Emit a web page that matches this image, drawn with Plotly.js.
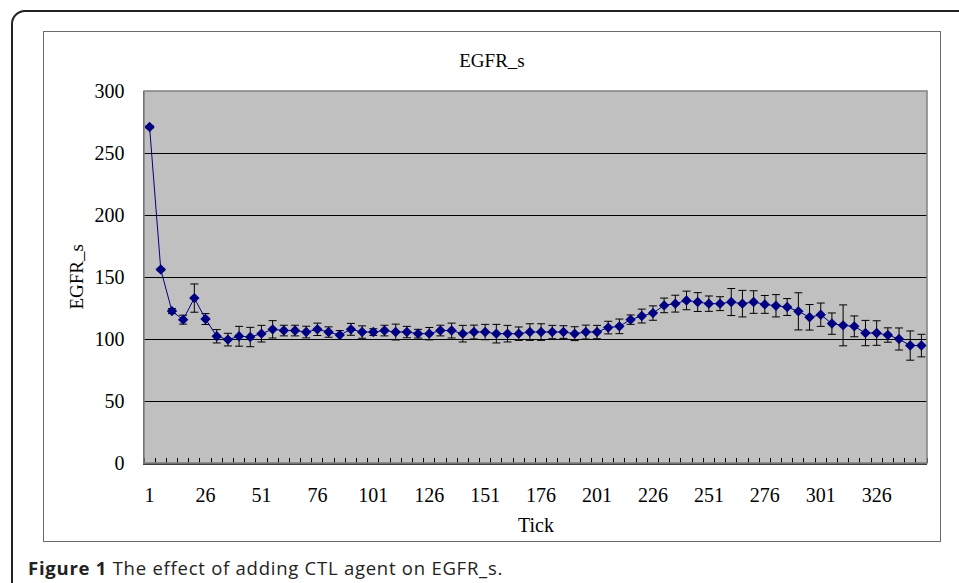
<!DOCTYPE html>
<html>
<head>
<meta charset="utf-8">
<script src="https://cdn.plot.ly/plotly-3.0.1.min.js"></script>
<style>
  html, body { margin: 0; padding: 0; background: #fff; width: 959px; height: 583px; overflow: hidden; }
  #frame { position: absolute; left: 11px; top: 10px; width: 1000px; height: 700px; border: 2px solid #222; border-radius: 14px; box-sizing: border-box; }
  #box { position: absolute; left: 43px; top: 31px; width: 898px; height: 511px; border: 1.5px solid #6a6a6a; box-sizing: border-box; background: #fff; }
  #chart { position: absolute; left: 0; top: 0; width: 959px; height: 583px; }
  #caption { position: absolute; left: 28px; top: 555px; font-family: "Open Sans", "Noto Sans", sans-serif; font-size: 18.5px; letter-spacing: 0.75px; color: #222; white-space: nowrap; }
</style>
</head>
<body>
<div id="frame"></div>
<div id="box"></div>
<div id="chart"></div>
<div id="caption"><b>Figure 1</b> The effect of adding CTL agent on EGFR_s.</div>
<script>
// Category (tick) positions
const tickValues = [1, 6, 11, 16, 21, 26, 31, 36, 41, 46, 51, 56, 61, 66, 71, 76, 81, 86, 91, 96,
  101, 106, 111, 116, 121, 126, 131, 136, 141, 146, 151, 156, 161, 166, 171, 176, 181, 186, 191, 196,
  201, 206, 211, 216, 221, 226, 231, 236, 241, 246, 251, 256, 261, 266, 271, 276, 281, 286, 291, 296,
  301, 306, 311, 316, 321, 326, 331, 336, 341, 346];

// EGFR_s mean values
const egfrMean = [271, 156, 122.5, 115.6, 133, 116.1, 102.2, 99.5, 102.2, 101.6,
  104.3, 107.8, 106.8, 106.8, 105.6, 107.8, 105.6, 103.2, 107.8, 105.6,
  105.6, 106.8, 105.6, 105.6, 104.3, 104.3, 106.8, 106.8, 104.3, 105.6,
  105.6, 104.3, 104.3, 104.3, 105.6, 105.6, 105.6, 105.6, 104.3, 105.6,
  105.6, 109.2, 110.2, 115.6, 118.5, 120.9, 127.1, 128.5, 131.1, 129.8,
  128.5, 128.5, 129.8, 128.5, 129.8, 127.9, 126.8, 125.8, 122.3, 117.5,
  119.6, 112.4, 111, 110.2, 104.8, 104.8, 103.2, 100, 94.7, 94.7];

// Error bar half-lengths
const egfrErr = [1, 1, 2, 3.6, 11.4, 4.4, 5.4, 5.1, 8, 7.8,
  6.7, 7, 4.3, 4.3, 4.7, 5, 4.2, 3.6, 4.8, 5,
  2.7, 4.3, 6.4, 4.6, 3.5, 5, 4.3, 6, 6.7, 5.6,
  6.2, 7.5, 6.7, 5.4, 6.7, 6.7, 5.4, 5.1, 5.6, 5.6,
  5.4, 5.1, 5.9, 3.8, 5.6, 5.8, 5.9, 6.8, 7.5, 7.6,
  6.2, 5.6, 10.9, 10.7, 9.1, 7.2, 9, 6.8, 15, 10.3,
  9.4, 8.6, 16.5, 8.4, 10.2, 9.9, 5.8, 8.9, 11.8, 9.1];

const xTickLabels = [1, 26, 51, 76, 101, 126, 151, 176, 201, 226, 251, 276, 301, 326];
const yTickLabels = [0, 50, 100, 150, 200, 250, 300];

const chartTitle = "EGFR_s";
const xTitle = "Tick";
const yTitle = "EGFR_s";

const serif = "Liberation Serif, Times New Roman, serif";

const trace = {
  type: "scatter",
  mode: "lines+markers",
  x: tickValues,
  y: egfrMean,
  line: { color: "#000080", width: 1 },
  marker: { symbol: "diamond", size: 8, color: "#000080" },
  error_y: { type: "data", array: egfrErr, visible: true, color: "#000000", thickness: 1, width: 4 },
  hoverinfo: "x+y"
};

const layout = {
  width: 959,
  height: 583,
  margin: { l: 143.5, r: 32, t: 91, b: 120, pad: 0 },
  paper_bgcolor: "rgba(0,0,0,0)",
  plot_bgcolor: "#C0C0C0",
  showlegend: false,
  title: {
    text: chartTitle,
    font: { family: serif, size: 19, color: "#000" },
    xref: "container", x: 492 / 959, xanchor: "center",
    yref: "container", y: 1 - 60 / 583, yanchor: "middle"
  },
  xaxis: {
    type: "linear",
    range: [-1.5, 348.5],
    tickmode: "array",
    tickvals: xTickLabels,
    ticktext: xTickLabels.map(String),
    ticks: "",
    showgrid: false,
    zeroline: false,
    showline: true,
    linecolor: "#404040",
    linewidth: 2,
    tickfont: { family: serif, size: 20, color: "#000" },
    ticklabelstandoff: 13,
    minor: { tick0: 3.5, dtick: 5, ticks: "inside", ticklen: 5, tickcolor: "#000", tickwidth: 1, showgrid: false }
  },
  yaxis: {
    range: [0, 300],
    tickmode: "array",
    tickvals: yTickLabels,
    ticktext: yTickLabels.map(String),
    ticks: "",
    showgrid: true,
    gridcolor: "#000000",
    gridwidth: 1,
    zeroline: false,
    showline: true,
    linecolor: "#505050",
    linewidth: 1.5,
    tickfont: { family: serif, size: 20, color: "#000" },
    ticklabelstandoff: 14
  },
  shapes: [
    { type: "rect", xref: "paper", yref: "paper", x0: 0, x1: 1, y0: 0, y1: 1,
      line: { color: "#808080", width: 1.5 }, fillcolor: "rgba(0,0,0,0)", layer: "above" }
  ],
  annotations: [
    { text: yTitle, xref: "paper", yref: "paper", x: (75 - 143.5) / 783.5, y: 0.5,
      xanchor: "center", yanchor: "middle", textangle: -90, showarrow: false,
      font: { family: serif, size: 19, color: "#000" } },
    { text: xTitle, xref: "paper", yref: "paper", x: 0.5, y: (463 - 525) / 372,
      xanchor: "center", yanchor: "middle", showarrow: false,
      font: { family: serif, size: 20, color: "#000" } }
  ]
};

Plotly.newPlot("chart", [trace], layout, { displayModeBar: false, staticPlot: true });
</script>
</body>
</html>
